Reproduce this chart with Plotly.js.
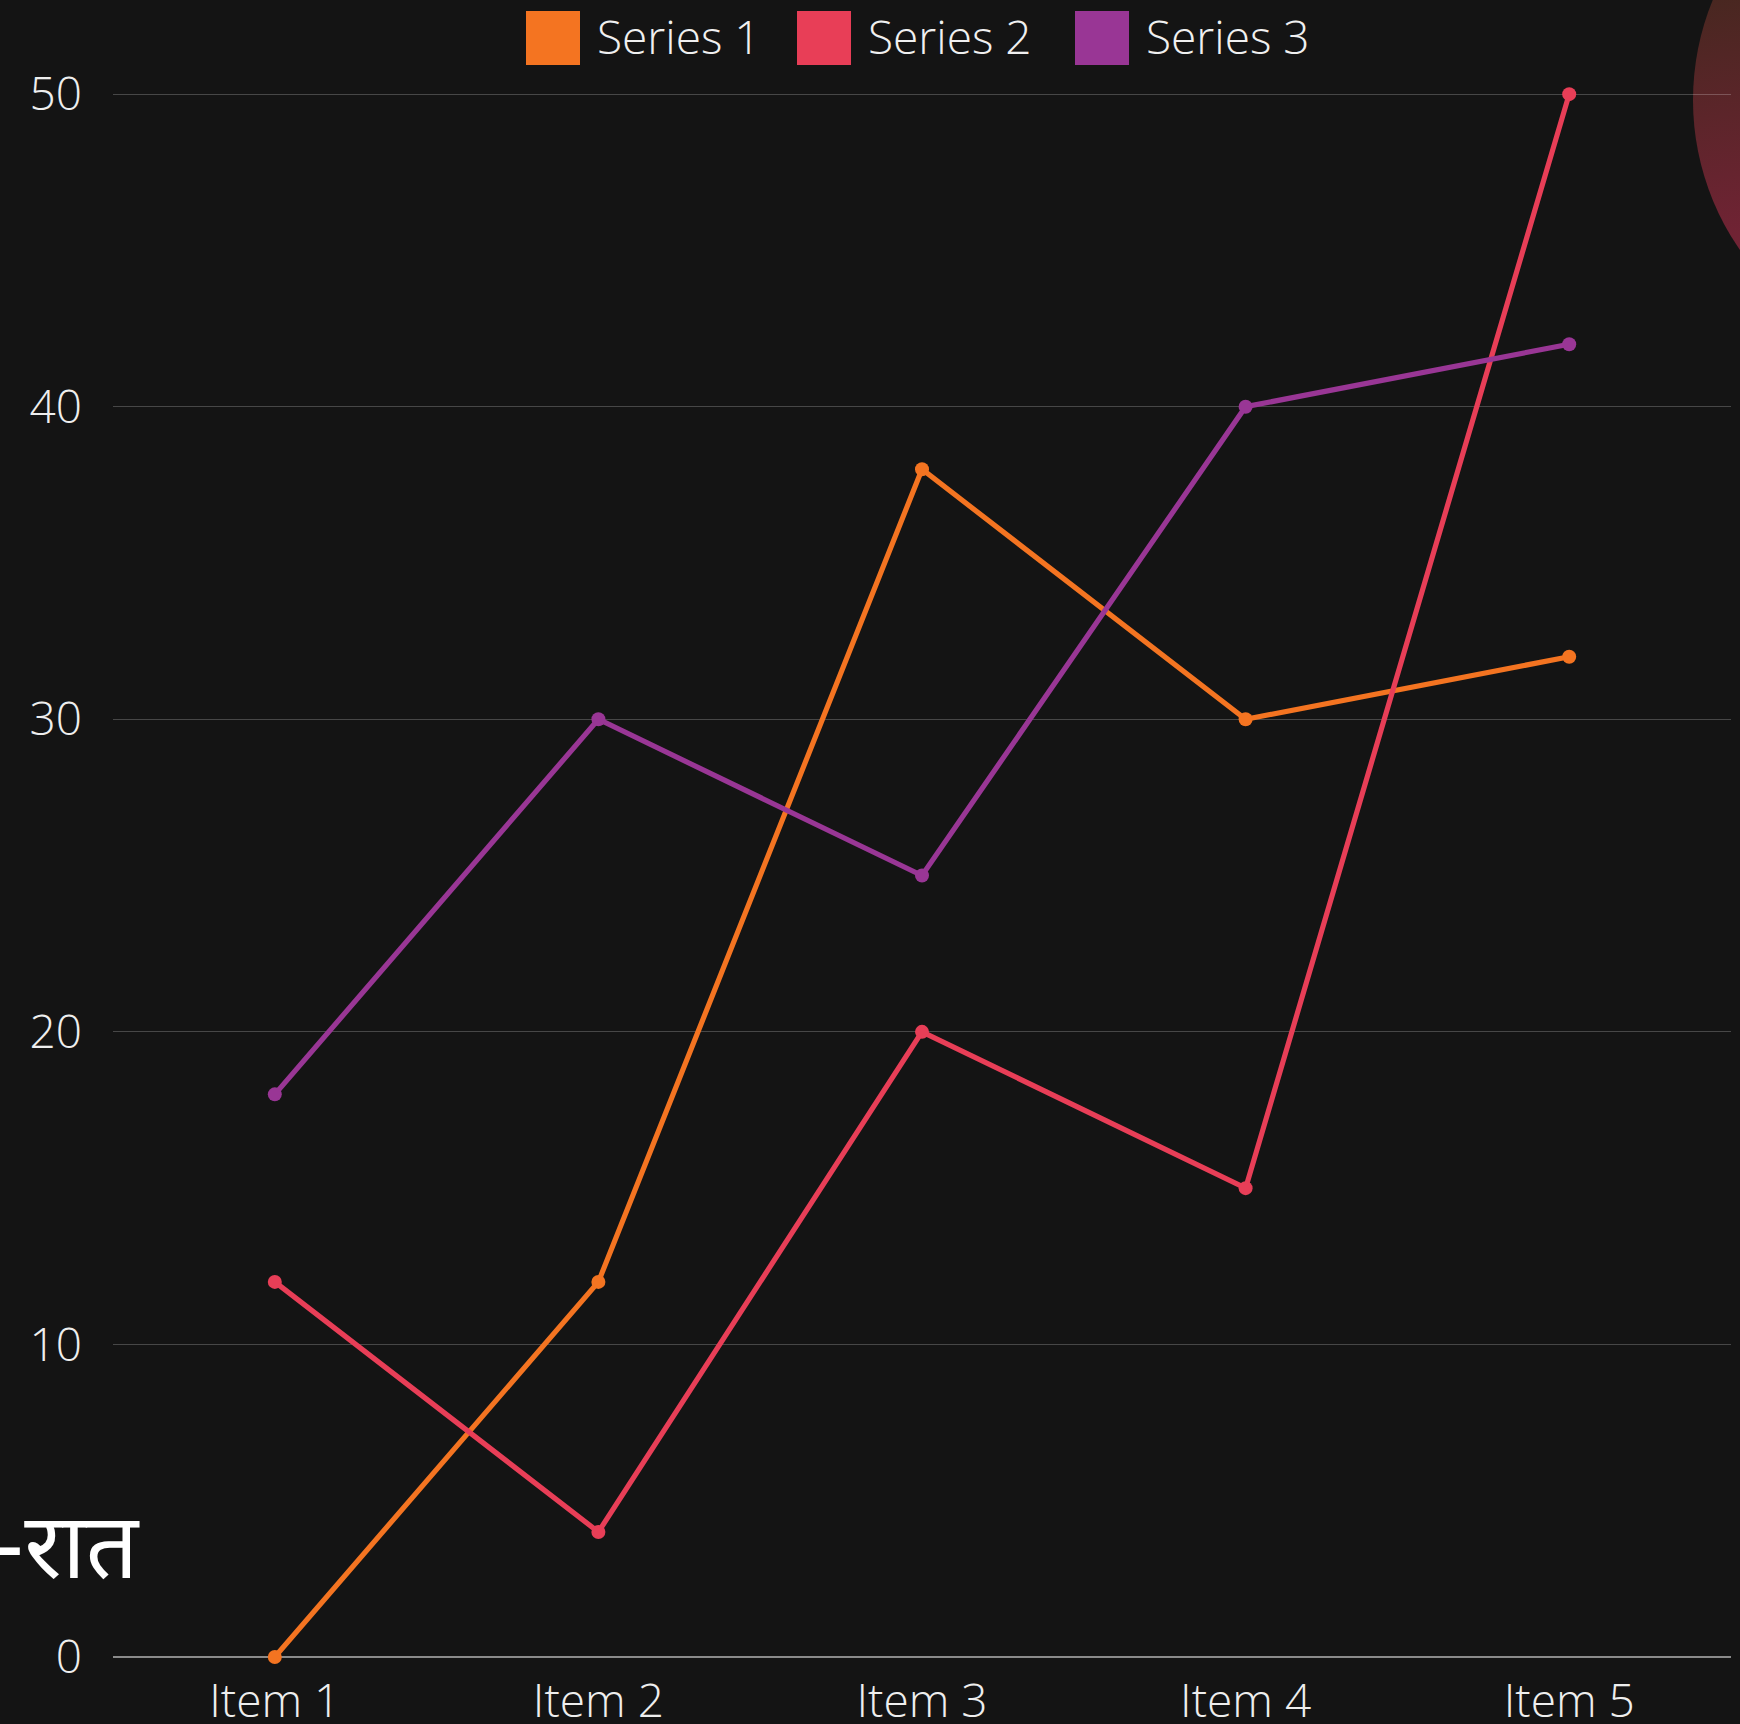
<!DOCTYPE html>
<html>
<head>
<meta charset="utf-8">
<script src="https://cdn.plot.ly/plotly-3.0.1.min.js"></script>
<style>html,body{margin:0;padding:0;background:#141414;}#chart{width:1740px;height:1724px;}</style>
</head>
<body>
<div id="chart"></div>
<script>
const categories = ["Item 1", "Item 2", "Item 3", "Item 4", "Item 5"];
const seriesNames = ["Series 1", "Series 2", "Series 3"];
const series1 = [0, 12, 38, 30, 32];
const series2 = [12, 4, 20, 15, 50];
const series3 = [18, 30, 25, 40, 42];
const yTicks = [0, 10, 20, 30, 40, 50];
const sideText = "-रात";

const colors = ["#F47421", "#E83E57", "#993695"];
const W = 1740, H = 1724;
const M = {l: 113, r: 9, t: 91, b: 67};
const pw = W - M.l - M.r, ph = H - M.t - M.b;
const fx = px => (px - M.l) / pw;
const fy = py => (H - M.b - py) / ph;
const FONT = "Open Sans, Noto Sans, sans-serif";

const values = [series1, series2, series3];
const traces = values.map((v, i) => ({
  type: "scatter",
  mode: "lines+markers",
  x: categories,
  y: v,
  name: seriesNames[i],
  line: {color: colors[i], width: 5.2},
  marker: {color: colors[i], size: 14},
  cliponaxis: false,
  showlegend: false
}));

// manual legend (large square swatches)
const legendX = [526, 797, 1075];
const shapes = [];
const annotations = [];
legendX.forEach((x0, i) => {
  shapes.push({type: "rect", xref: "paper", yref: "paper",
    x0: fx(x0), x1: fx(x0 + 54), y0: fy(65), y1: fy(11),
    fillcolor: colors[i], line: {width: 0}, layer: "above"});
  annotations.push({xref: "paper", yref: "paper", x: fx(x0 + 69), y: fy(36),
    xanchor: "left", yanchor: "middle", showarrow: false, text: seriesNames[i],
    font: {family: FONT, size: 46, color: "#f0f0f0", weight: 300}});
});
annotations.push({xref: "paper", yref: "paper", x: fx(142), y: fy(1556),
  xanchor: "right", yanchor: "middle", showarrow: false, text: sideText,
  font: {family: "Noto Sans Devanagari, Noto Sans, sans-serif", size: 92, color: "#ffffff", weight: 400}});

const svg = "<svg xmlns='http://www.w3.org/2000/svg' width='526' height='526' viewBox='0 0 526 526'>" +
  "<defs><linearGradient id='g' x1='0' y1='0' x2='0.15' y2='1'>" +
  "<stop offset='0' stop-color='#432a1f'/><stop offset='0.3' stop-color='#482720'/>" +
  "<stop offset='0.75' stop-color='#702334'/><stop offset='1' stop-color='#7a2238'/></linearGradient></defs>" +
  "<circle cx='263' cy='263' r='263' fill='url(#g)'/></svg>";

const layout = {
  width: W, height: H,
  margin: M,
  paper_bgcolor: "#141414",
  plot_bgcolor: "rgba(0,0,0,0)",
  showlegend: false,
  font: {family: FONT, size: 46, color: "#eeeeee", weight: 300},
  xaxis: {
    type: "category",
    range: [-0.5, 4.5],
    showgrid: false,
    zeroline: false,
    showline: false,
    ticks: "",
    ticklabelstandoff: 13,
    tickfont: {family: FONT, size: 46, color: "#eeeeee", weight: 300}
  },
  yaxis: {
    range: [0, 50.1],
    tickvals: yTicks,
    ticktext: yTicks.map(String),
    showgrid: true,
    gridcolor: "rgba(255,255,255,0.22)",
    gridwidth: 1.2,
    zeroline: true,
    zerolinecolor: "rgba(255,255,255,0.5)",
    zerolinewidth: 1.5,
    showline: false,
    ticks: "",
    ticklabelstandoff: 30,
    tickfont: {family: FONT, size: 46, color: "#eeeeee", weight: 300}
  },
  shapes: shapes,
  annotations: annotations,
  images: [{
    source: "data:image/svg+xml;charset=utf-8," + encodeURIComponent(svg),
    xref: "paper", yref: "paper",
    x: fx(1693), y: fy(-163),
    sizex: 526 / pw, sizey: 526 / ph,
    xanchor: "left", yanchor: "top",
    sizing: "stretch", layer: "below"
  }]
};

Plotly.newPlot("chart", traces, layout, {displayModeBar: false, staticPlot: true});
</script>
</body>
</html>
